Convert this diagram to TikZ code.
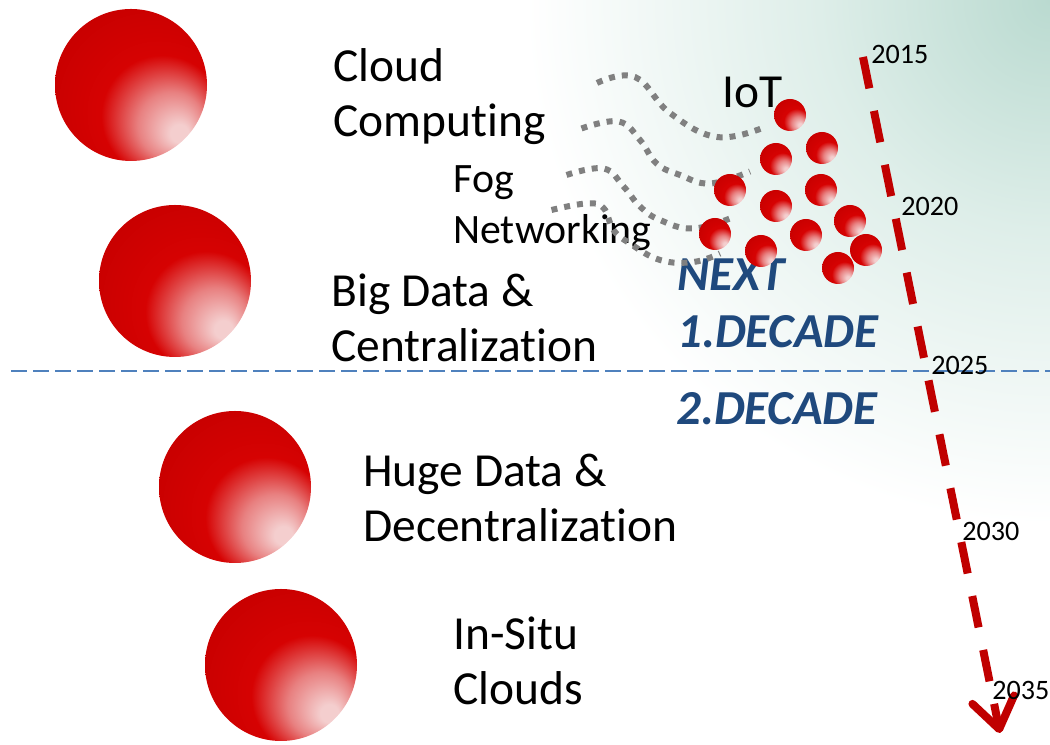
\documentclass[tikz,border=0pt]{standalone}
\usepackage{fontspec}
\setmainfont{Carlito}[Ligatures={NoCommon}]
\usetikzlibrary{arrows.meta}

\definecolor{bgteal}{RGB}{186,218,208}
\definecolor{bgmid}{RGB}{222,238,233}
\definecolor{ballhi}{RGB}{244,206,206}
\definecolor{ballpink}{RGB}{232,128,128}
\definecolor{ballmid}{RGB}{214,2,2}
\definecolor{ballred}{RGB}{200,0,0}
\definecolor{balldark}{RGB}{172,0,0}
\definecolor{fogcolor}{RGB}{128,128,128}
\definecolor{decblue}{RGB}{31,73,125}
\definecolor{lineblue}{RGB}{79,129,189}
\definecolor{arrowred}{RGB}{192,0,0}

\pgfdeclareradialshading{redball}{\pgfpoint{17bp}{-17bp}}{color(0bp)=(ballhi); color(3bp)=(ballhi); color(11bp)=(ballpink); color(20bp)=(ballmid); color(34bp)=(ballred); color(50bp)=(balldark)}
\pgfdeclareradialshading{corner}{\pgfpoint{0bp}{0bp}}{color(0bp)=(bgteal); color(11bp)=(bgmid); color(25bp)=(white); color(50bp)=(white)}

\tikzset{
  bigball/.style={circle, inner sep=0pt, minimum size=3.04cm, shade, shading=redball},
  iotball/.style={circle, inner sep=0pt, minimum size=0.64cm, shade, shading=redball},
  topic/.style={anchor=base west, align=left, inner sep=0pt, font=\fontsize{27}{31.5}\selectfont},
  smalltopic/.style={anchor=base west, align=left, inner sep=0pt, font=\fontsize{23.8}{29.5}\selectfont},
  decade/.style={anchor=base west, align=left, inner sep=0pt, text=decblue, font=\fontsize{27.8}{32.9}\selectfont\bfseries\itshape},
  year/.style={anchor=base west, inner sep=0pt, font=\fontsize{16}{19}\selectfont},
  fogline/.style={draw=fogcolor, line width=0.12cm, dash pattern=on 0.12cm off 0.14cm},
  timeline/.style={draw=arrowred, line width=0.16cm, dash pattern=on 0.64cm off 0.46cm,
    -{Straight Barb[length=0.6cm, width=0.85cm, round]}}
}

\begin{document}
\begin{tikzpicture}
        \useasboundingbox (0,0) rectangle (21,14.9);
        % background
        \begin{scope}
          \clip (0,0) rectangle (21,14.9);
          \shade[shading=corner] (21,14.9) circle (10.5);
        \end{scope}
        % decade border
        \coordinate (d0) at (0.22, 7.48);
        \coordinate (d1) at (21.0, 7.48);
        \draw[lineblue, line width=0.04cm, dash pattern=on 0.32cm off 0.12cm] (d0) -- (d1);

        \node[bigball] (b1) at (2.62, 13.20) {};
        \node[bigball] (b2) at (3.50, 9.28) {};
        \node[bigball] (b3) at (4.70, 5.16) {};
        \node[bigball] (b4) at (5.62, 1.60) {};

        \node[topic] (cloud) at (6.66, 12.16) {Cloud\\Computing};
        \node[topic] (big) at (6.62, 7.66) {Big Data \&\\Centralization};
        \node[topic] (huge) at (7.26, 4.06) {Huge Data \&\\Decentralization};
        \node[topic] (insitu) at (9.06, 0.80) {In-Situ\\Clouds};
        \node[smalltopic] (fog) at (9.06, 10.02) {Fog\\Networking};
        \node[topic] (iot) at (14.44, 12.74) {IoT};
        \node[decade] (next) at (13.54, 7.94) {NEXT\\1.DECADE};
        \node[decade] (second) at (13.52, 6.40) {2.DECADE};

        % fog lines
        \draw[fogline] plot[smooth, tension=0.7] coordinates {(11.94,13.24) (12.70,13.36) (13.40,12.64) (14.34,12.16) (15.30,12.36)};
        \draw[fogline] plot[smooth, tension=0.7] coordinates {(11.63,12.33) (12.37,12.47) (12.80,12.10) (13.13,11.63) (13.60,11.40) (14.20,11.23) (15.00,11.47)};
        \draw[fogline] plot[smooth, tension=0.7] coordinates {(11.33,11.40) (12.07,11.53) (12.47,11.17) (12.80,10.77) (13.20,10.50) (13.87,10.33) (14.70,10.57)};
        \draw[fogline] plot[smooth, tension=0.7] coordinates {(11.03,10.70) (11.73,10.83) (12.07,10.74) (12.27,10.30) (12.60,10.03) (13.20,9.70) (13.87,9.66) (14.40,9.83)};

        \node[iotball] (s1) at (15.80, 12.60) {};
        \node[iotball] (s2) at (16.44, 11.94) {};
        \node[iotball] (s3) at (15.52, 11.72) {};
        \node[iotball] (s4) at (14.60, 11.10) {};
        \node[iotball] (s5) at (16.42, 11.10) {};
        \node[iotball] (s6) at (15.52, 10.78) {};
        \node[iotball] (s7) at (17.00, 10.48) {};
        \node[iotball] (s8) at (14.30, 10.22) {};
        \node[iotball] (s9) at (16.12, 10.20) {};
        \node[iotball] (s10) at (17.32, 9.90) {};
        \node[iotball] (s11) at (15.22, 9.88) {};
        \node[iotball] (s12) at (16.76, 9.54) {};

        % time arrow
        \coordinate (t0) at (17.26, 13.76);
        \coordinate (t1) at (20.00, 0.24);
        \draw[timeline] (t0) -- (t1);
        \node[year] (y15) at (17.42, 13.62) {2015};
        \node[year] (y20) at (18.02, 10.58) {2020};
        \node[year] (y25) at (18.62, 7.40) {2025};
        \node[year] (y30) at (19.24, 4.08) {2030};
        \node[year] (y35) at (19.84, 0.90) {2035};
\end{tikzpicture}
\end{document}
